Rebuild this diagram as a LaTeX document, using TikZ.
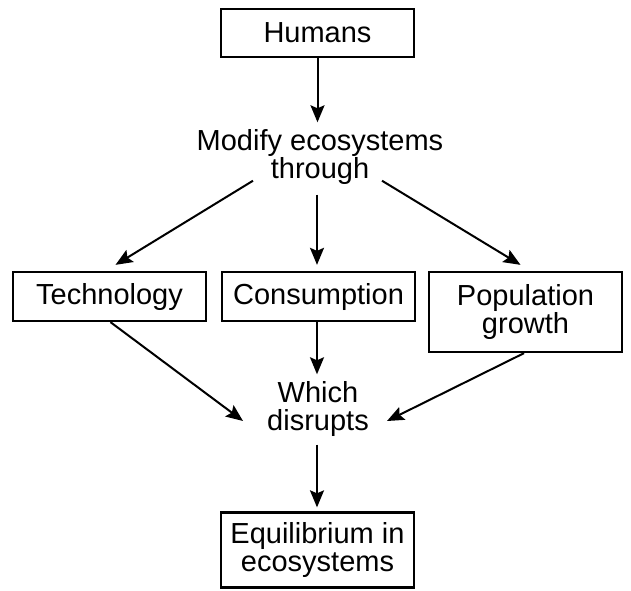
\documentclass[tikz,border=0pt]{standalone}
\usepackage{fontspec}
\setmainfont{Liberation Sans}
\usetikzlibrary{arrows.meta,calc}
\tikzset{>=latex}
\tikzstyle{block}=[draw,line width=2.3pt,minimum width=193pt,inner sep=0pt,align=center,font=\fontsize{29}{28}\selectfont]
\tikzstyle{plaintext}=[inner sep=2pt,align=center,font=\fontsize{29}{28}\selectfont]
\tikzstyle{flow}=[-{Stealth[length=17pt,width=14pt,inset=3pt]},line width=2pt]

\begin{document}
\begin{tikzpicture}[x=1pt,y=-1pt]
  \useasboundingbox (0,0) rectangle (631,590);

  % boxes and texts
  \node[block,minimum height=48pt] (humans) at (317.5,33) {Humans};
  \node[plaintext] (modify) at (320,157) {Modify ecosystems\\through};
  \node[block,minimum height=49pt] (tech) at (109.5,296.5) {Technology};
  \node[block,minimum height=49pt] (cons) at (318.5,296.5) {Consumption};
  \node[block,minimum height=80pt] (pop) at (525.5,312) {Population\\growth};
  \node[plaintext] (which) at (318,409) {Which\\disrupts};
  \node[block,minimum height=75pt] (equil) at (317.5,550) {Equilibrium in\\ecosystems};

  % arrows
  \draw[flow] (humans.south) -- ($(humans.south |- modify.north)+(0,-5)$);
  \draw[flow] ($(modify.south)+(-67,-6)$) -- ($(tech.north)+(6,-6)$);
  \draw[flow] ($(modify.south)+(-3,8)$) -- ($(modify.south |- cons.north)+(-3,-6)$);
  \draw[flow] ($(modify.south)+(62,-6)$) -- ($(pop.north)+(-5,-6)$);
  \draw[flow] ($(tech.south)+(1,0)$) -- ($(which.west)+(-22,12)$);
  \draw[flow] ($(cons.south)+(-1.5,0)$) -- ($(cons.south |- which.north)+(-1.5,-5)$);
  \draw[flow] ($(pop.south)+(-1.5,0)$) -- ($(which.east)+(16,12)$);
  \draw[flow] ($(which.south)+(-1,6)$) -- ($(which.south |- equil.north)+(-1,-4)$);
\end{tikzpicture}
\end{document}
